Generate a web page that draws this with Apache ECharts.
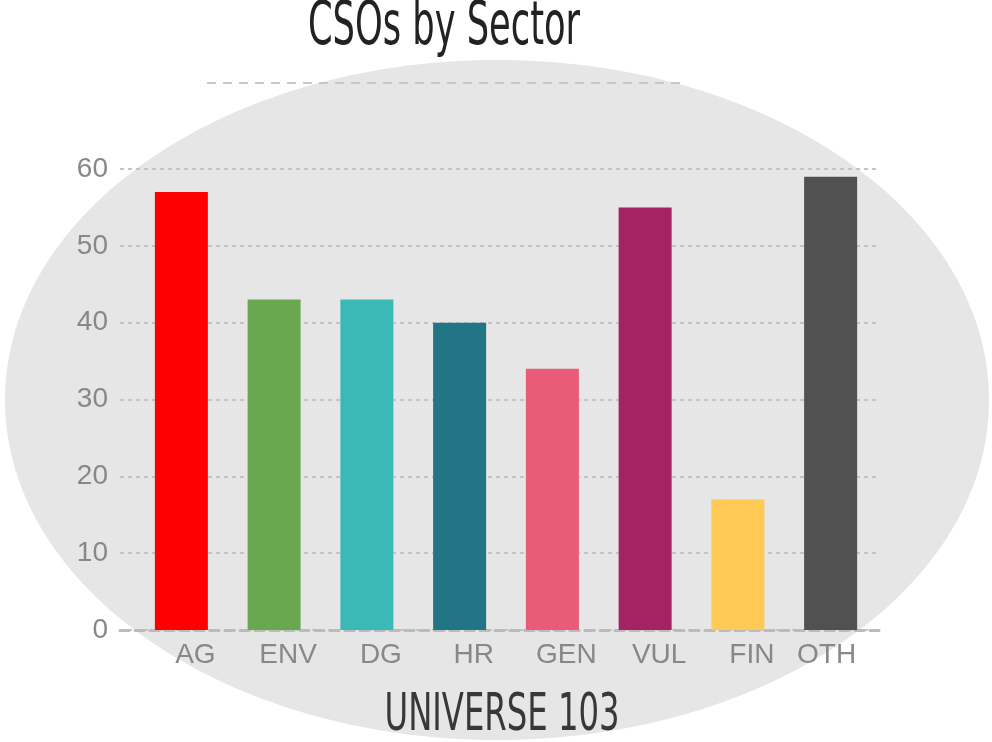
<!DOCTYPE html>
<html>
<head>
<meta charset="utf-8">
<style>
  html, body { margin: 0; padding: 0; background: #fff; }
  #chart { width: 992px; height: 742px; }
</style>
<script src="https://cdn.jsdelivr.net/npm/echarts@6/dist/echarts.min.js"></script>
</head>
<body>
<div id="chart"></div>
<script>
var sectors = ['AG', 'ENV', 'DG', 'HR', 'GEN', 'VUL', 'FIN', 'OTH'];
var counts = [57, 43, 43, 40, 34, 55, 17, 59];
var barColors = ['#ff0000', '#6aa84f', '#3bb9b7', '#217585', '#e95b78', '#a52363', '#ffc956', '#515151'];
var yTicks = [0, 10, 20, 30, 40, 50, 60];

var titleText = 'CSOs by Sector';
var axisTitle = 'UNIVERSE 103';

// labels in the picture sit a bit right of their bars, except the last one
var labelShift = { OTH: -4 };

var narrow = "'Liberation Sans Narrow', 'DejaVu Sans Condensed', sans-serif";

function fitScale(text, size, width) {
  var ctx = document.createElement('canvas').getContext('2d');
  ctx.font = size + 'px ' + narrow;
  return width / ctx.measureText(text).width;
}

var chart = echarts.init(document.getElementById('chart'), null, { renderer: 'canvas' });

chart.setOption({
  animation: false,
  backgroundColor: '#fff',
  graphic: [
    {
      type: 'ellipse', z: -10, silent: true,
      shape: { cx: 497, cy: 400, rx: 492, ry: 340 },
      style: { fill: '#e6e6e6' }
    },
    {
      type: 'line', z: -5, silent: true,
      shape: { x1: 207, y1: 83, x2: 685, y2: 83 },
      style: { stroke: '#c8c8c8', lineWidth: 2, lineDash: [9, 7] }
    },
    {
      type: 'text', x: 444, y: 28,
      scaleX: fitScale(titleText, 60, 272),
      style: {
        text: titleText, fill: '#222', font: '60px ' + narrow,
        align: 'center', verticalAlign: 'middle'
      }
    },
    {
      type: 'text', x: 502, y: 717,
      scaleX: fitScale(axisTitle, 51, 235),
      style: {
        text: axisTitle, fill: '#383838', font: '51px ' + narrow,
        align: 'center', verticalAlign: 'middle'
      }
    }
  ],
  grid: [
    { left: 120, right: 112, top: 169, bottom: 112 },
    { left: 135, right: 115, top: 169, bottom: 112 }
  ],
  xAxis: [
    {
      gridIndex: 0, type: 'category', data: sectors,
      axisLine: { show: true, lineStyle: { color: '#bbbbbb', width: 3, type: [9, 6] } },
      axisTick: { show: false }, axisLabel: { show: false }, splitLine: { show: false }
    },
    {
      gridIndex: 1, type: 'category', data: sectors,
      axisLine: { show: false }, axisTick: { show: false },
      axisLabel: {
        margin: 11,
        formatter: function (v) {
          return '{' + (labelShift[v] ? 'l' : 'r') + '|' + v + '}';
        },
        rich: {
          r: { color: '#888', fontSize: 28, fontFamily: 'Liberation Sans, Arial', padding: [0, 0, 0, 28] },
          l: { color: '#888', fontSize: 28, fontFamily: 'Liberation Sans, Arial', padding: [0, 8, 0, 0] }
        }
      }
    }
  ],
  yAxis: [
    {
      gridIndex: 0, type: 'value', min: yTicks[0], max: yTicks[yTicks.length - 1], interval: 10,
      axisLine: { show: false }, axisTick: { show: false },
      axisLabel: { margin: 12, color: '#888', fontSize: 28, fontFamily: 'Liberation Sans, Arial' },
      splitLine: { lineStyle: { color: '#c4c4c4', width: 2, type: [4, 4] } }
    },
    {
      gridIndex: 1, type: 'value', min: yTicks[0], max: yTicks[yTicks.length - 1], interval: 10,
      show: false, splitLine: { show: false }
    }
  ],
  series: [{
    type: 'bar', xAxisIndex: 1, yAxisIndex: 1,
    barWidth: 53,
    data: counts.map(function (v, i) {
      return { value: v, itemStyle: { color: barColors[i] } };
    })
  }]
});
</script>
</body>
</html>
